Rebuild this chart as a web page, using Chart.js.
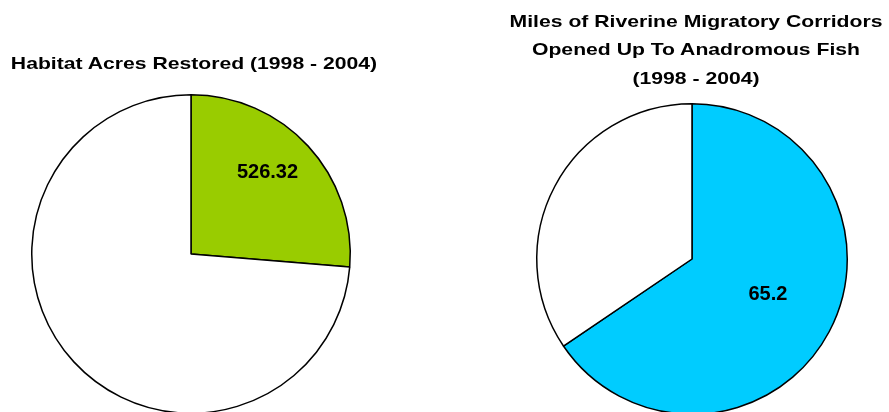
<!DOCTYPE html>
<html>
<head>
<meta charset="utf-8">
<script src="https://cdn.jsdelivr.net/npm/chart.js@4.4.1/dist/chart.umd.min.js"></script>
<style>
  html, body { margin: 0; padding: 0; background: #fff; overflow: hidden; }
  .box { position: absolute; top: 0; }
  #left { left: 0; width: 382px; height: 414px; }
  #right { left: 497px; width: 390px; height: 415px; }
  .title {
    position: absolute; width: 400px; text-align: center; color: #000;
    font: bold 17px "Liberation Sans", Arial, sans-serif;
    transform: scaleX(1.245); transform-origin: 50% 0; white-space: nowrap;
  }
  #t1 { left: -6.5px; top: 55px; line-height: 17px; }
  #t2 { left: 496px; top: 8px; line-height: 28.3px; }
</style>
</head>
<body>
<div class="box" id="left"><canvas id="habitat"></canvas></div>
<div class="box" id="right"><canvas id="miles"></canvas></div>
<div class="title" id="t1"></div>
<div class="title" id="t2"></div>
<script>
// data (second slice = remainder, estimated from the angle)
const habitatTitle = ['Habitat Acres Restored (1998 - 2004)'];
const habitatLabels = ['Restored', 'Other'];
const habitatValues = [526.32, 1474];
const habitatColors = ['#99CC00', '#FFFFFF'];

const milesTitle = ['Miles of Riverine Migratory Corridors', 'Opened Up To Anadromous Fish', '(1998 - 2004)'];
const milesLabels = ['Opened', 'Other'];
const milesValues = [65.2, 34.3];
const milesColors = ['#00CCFF', '#FFFFFF'];

document.getElementById('t1').innerHTML = habitatTitle.join('<br>');
document.getElementById('t2').innerHTML = milesTitle.join('<br>');

// draws the value on the first slice only
const sliceLabel = {
  id: 'sliceLabel',
  afterDatasetsDraw(chart, args, opts) {
    const arc = chart.getDatasetMeta(0).data[0];
    const p = arc.getProps(['x', 'y', 'startAngle', 'endAngle', 'outerRadius'], true);
    const mid = (p.startAngle + p.endAngle) / 2 + (opts.shift || 0);
    const r = p.outerRadius * opts.ratio;
    const ctx = chart.ctx;
    ctx.save();
    ctx.font = 'bold 20px "Liberation Sans", Arial, sans-serif';
    ctx.fillStyle = '#000';
    ctx.textAlign = 'center';
    ctx.textBaseline = 'middle';
    ctx.fillText(String(chart.data.datasets[0].data[0]), p.x + Math.cos(mid) * r, p.y + Math.sin(mid) * r);
    ctx.restore();
  }
};

const makePie = (id, labels, values, colors, padTop, ratio, shift) => new Chart(document.getElementById(id), {
  type: 'pie',
  data: {
    labels: labels,
    datasets: [{ data: values, backgroundColor: colors, borderColor: '#000', borderWidth: 1.5 }]
  },
  options: {
    responsive: true,
    maintainAspectRatio: false,
    animation: false,
    layout: { padding: { top: padTop } },
    plugins: {
      legend: { display: false },
      tooltip: { enabled: false },
      title: { display: false },
      sliceLabel: { ratio: ratio, shift: shift }
    }
  },
  plugins: [sliceLabel]
});

makePie('habitat', habitatLabels, habitatValues, habitatColors, 94, 0.7, -0.07);
makePie('miles', milesLabels, milesValues, milesColors, 103, 0.54, -0.05);
</script>
</body>
</html>
